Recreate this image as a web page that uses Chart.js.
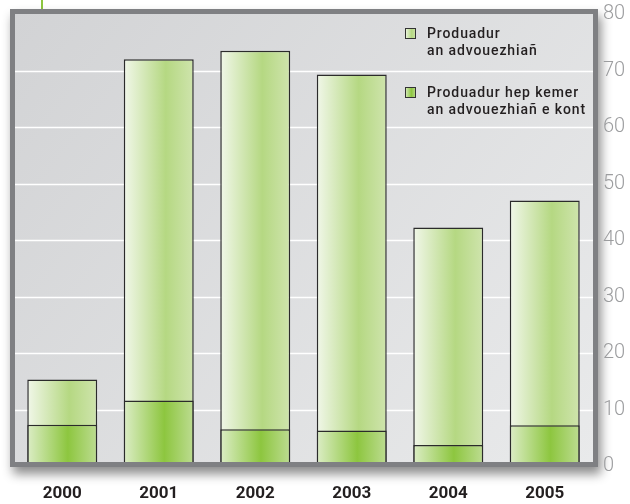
<!DOCTYPE html>
<html>
<head>
<meta charset="utf-8">
<script src="https://cdn.jsdelivr.net/npm/chart.js@4"></script>
<style>
  html, body { margin: 0; padding: 0; background: #fff; }
  #wrap { width: 630px; height: 504px; }
</style>
</head>
<body>
<div id="wrap"><canvas id="chart" width="630" height="504"></canvas></div>
<script>
// data
const years = ['2000', '2001', '2002', '2003', '2004', '2005'];
const totalValues = [15.3, 72.0, 73.5, 69.3, 42.2, 47.0];   // Produadur an advouezhiañ
const baseValues = [7.3, 11.6, 6.5, 6.3, 3.7, 7.2];         // Produadur hep kemer ...
const yTicks = [0, 10, 20, 30, 40, 50, 60, 70, 80];
const seriesLabels = ['Produadur\nan advouezhiañ', 'Produadur hep kemer\nan advouezhiañ e kont'];

// gradient stops for the two greens
const lightStops = [[0, '#f1f7e9'], [0.6, '#b5d882'], [1, '#cfe4ad']];
const darkStops = [[0, '#dcedc6'], [0.58, '#8dc63f'], [1, '#bddc92']];

function makeGradient(ctx, x0, x1, stops) {
  const g = ctx.createLinearGradient(x0, 0, x1, 0);
  stops.forEach(s => g.addColorStop(s[0], s[1]));
  return g;
}

// grey panel behind the bars, frame drawn on top of them
const panelPlugin = {
  id: 'panel',
  beforeDraw(chart) {
    const { ctx, chartArea: a } = chart;
    const y = chart.scales.y;
    const left = a.left + 1, right = a.right;
    const top = a.top, bottom = a.bottom - 4;
    ctx.save();
    // little green line on top
    ctx.strokeStyle = '#8dc63f';
    ctx.lineWidth = 2;
    ctx.beginPath();
    ctx.moveTo(42, 0);
    ctx.lineTo(42, top - 5);
    ctx.stroke();
    // shadow under the frame
    ctx.shadowColor = 'rgba(0,0,0,0.45)';
    ctx.shadowBlur = 10;
    ctx.shadowOffsetX = 3;
    ctx.shadowOffsetY = 7;
    ctx.fillStyle = '#7f8083';
    ctx.fillRect(left - 5, top - 5, right - left + 10, bottom - top + 10);
    ctx.shadowColor = 'transparent';
    // inner background
    const bg = ctx.createLinearGradient(left, top, right, bottom);
    bg.addColorStop(0, '#d2d3d5');
    bg.addColorStop(1, '#e9eaeb');
    ctx.fillStyle = bg;
    ctx.fillRect(left, top, right - left, bottom - top);
    // grid lines
    ctx.strokeStyle = '#ffffff';
    ctx.lineWidth = 1.5;
    yTicks.slice(1, -1).forEach(v => {
      const py = Math.round(y.getPixelForValue(v)) + 0.5;
      ctx.beginPath();
      ctx.moveTo(left, py);
      ctx.lineTo(right, py);
      ctx.stroke();
    });
    ctx.restore();
  },
  beforeDatasetsDraw(chart) {
    // each bar gets its own horizontal gradient (options objects are shared, so copy them)
    chart.data.datasets.forEach((ds, i) => {
      const meta = chart.getDatasetMeta(i);
      meta.data.forEach(el => {
        const x0 = el.x - el.width / 2, x1 = el.x + el.width / 2;
        const g = makeGradient(chart.ctx, x0, x1, i === 0 ? lightStops : darkStops);
        el.options = Object.assign({}, el.options, { backgroundColor: g });
      });
    });
  },
  afterDatasetsDraw(chart) {
    const { ctx, chartArea: a } = chart;
    const left = a.left + 1, right = a.right;
    const top = a.top, bottom = a.bottom - 4;
    ctx.save();
    ctx.strokeStyle = '#7f8083';
    ctx.lineWidth = 5;
    ctx.strokeRect(left - 2.5, top - 2.5, right - left + 5, bottom - top + 5);
    ctx.restore();
  }
};

// two-line legend in the top right of the panel
const legendPlugin = {
  id: 'twoLineLegend',
  afterDraw(chart) {
    const ctx = chart.ctx;
    const bx = 405, rows = [28, 87];
    ctx.save();
    ctx.font = '500 14px Roboto';
    ctx.letterSpacing = '0.9px';
    ctx.textBaseline = 'middle';
    chart.data.datasets.forEach((ds, i) => {
      const by = rows[i];
      ctx.fillStyle = makeGradient(ctx, bx, bx + 11, i === 0 ? lightStops : darkStops);
      ctx.fillRect(bx, by, 11, 11);
      ctx.strokeStyle = '#333';
      ctx.lineWidth = 1;
      ctx.strokeRect(bx + 0.5, by + 0.5, 10, 10);
      ctx.fillStyle = '#231f20';
      ds.label.split('\n').forEach((line, k) => {
        ctx.fillText(line, 427, by + 6 + k * 17);
      });
    });
    ctx.restore();
  }
};

new Chart(document.getElementById('chart'), {
  type: 'bar',
  data: {
    labels: years,
    datasets: [
      {
        label: seriesLabels[0],
        data: totalValues,
        order: 2,
        borderColor: '#2b2b2b',
        borderWidth: 1.5,
        borderSkipped: false,
        backgroundColor: '#c5e09c'
      },
      {
        label: seriesLabels[1],
        data: baseValues,
        order: 1,
        borderColor: '#2b2b2b',
        borderWidth: 1.5,
        borderSkipped: false,
        backgroundColor: '#9fcf5c'
      }
    ]
  },
  options: {
    responsive: false,
    animation: false,
    layout: { padding: { top: 14, left: 14, right: 0, bottom: 0 } },
    datasets: {
      bar: { grouped: false, barPercentage: 0.725, categoryPercentage: 1 }
    },
    plugins: {
      legend: { display: false },
      tooltip: { enabled: false }
    },
    scales: {
      x: {
        grid: { display: false, drawTicks: false },
        border: { display: false },
        ticks: {
          color: '#231f20',
          padding: 18,
          font: { family: 'Roboto', weight: 'bold', size: 17 }
        },
        afterFit(scale) { scale.height = 38; }
      },
      y: {
        position: 'right',
        min: 0,
        max: 80,
        grid: { display: false, drawTicks: false },
        border: { display: false },
        ticks: {
          stepSize: 10,
          padding: 10,
          color: '#9c9d9f',
          font: { family: 'Roboto', weight: 300, size: 20 }
        },
        afterFit(scale) {
          scale.width = 37;
          scale.paddingTop = 0;
          scale.paddingBottom = 0;
        }
      }
    }
  },
  plugins: [panelPlugin, legendPlugin]
});
</script>
</body>
</html>
